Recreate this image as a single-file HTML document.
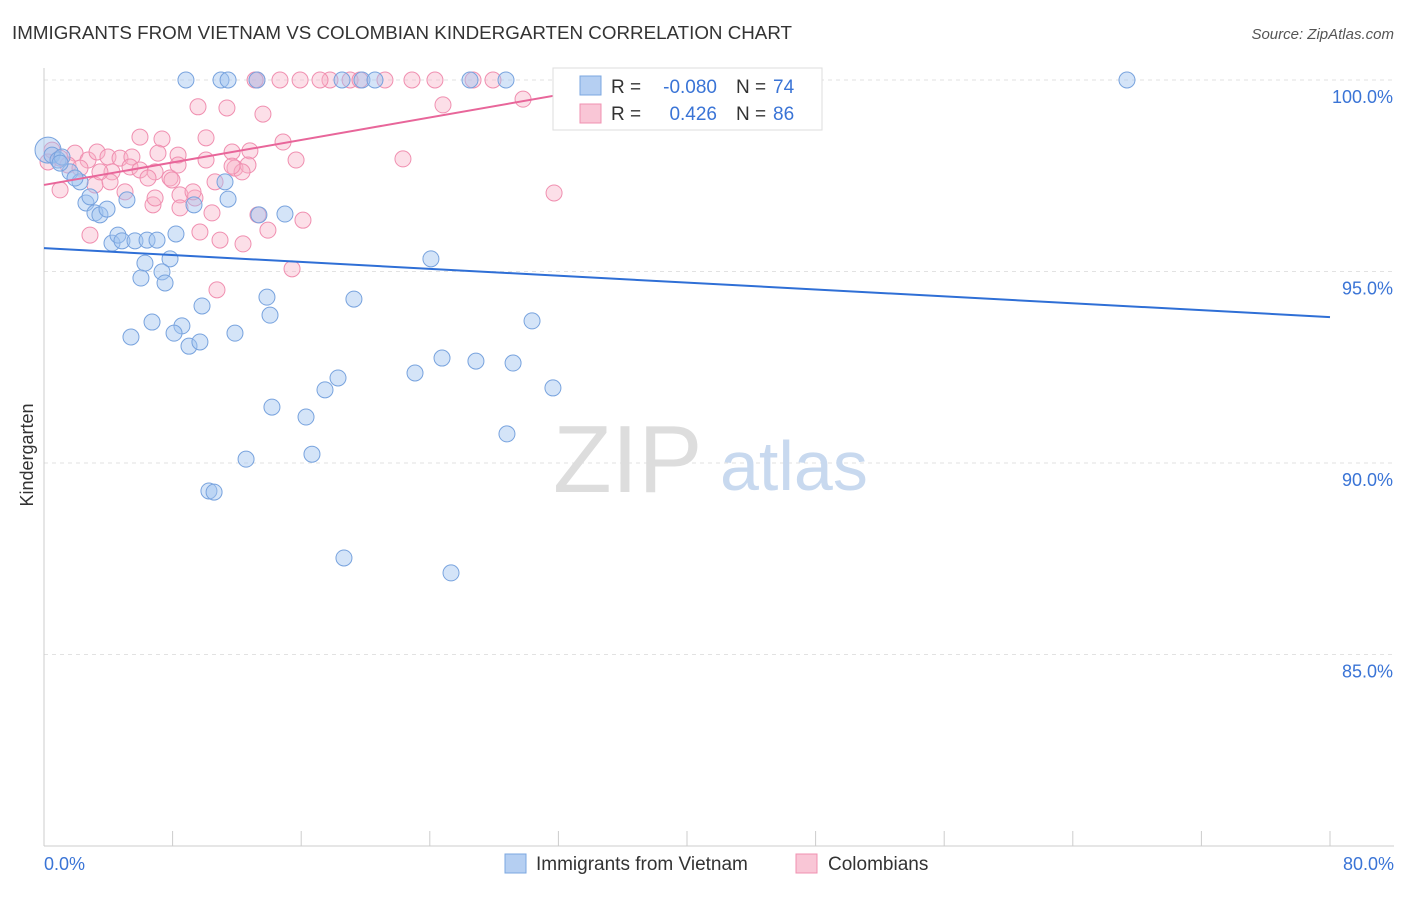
<!DOCTYPE html>
<html><head><meta charset="utf-8"><style>
body{margin:0;background:#fff;font-family:"Liberation Sans",sans-serif;}
svg text{font-family:"Liberation Sans",sans-serif;}
</style></head><body>
<svg width="1406" height="892" viewBox="0 0 1406 892">
<text x="12" y="39" font-size="18" fill="#333" textLength="780" lengthAdjust="spacingAndGlyphs">IMMIGRANTS FROM VIETNAM VS COLOMBIAN KINDERGARTEN CORRELATION CHART</text>
<text x="1394" y="39" font-size="15" fill="#555" text-anchor="end" font-style="italic">Source: ZipAtlas.com</text>
<g id="grid"></g>
<g id="axes"></g>
<text x="553" y="492" font-size="96" fill="#ddd" font-family="Liberation Serif">ZIP</text>
<text x="720" y="490" font-size="70" fill="#c8d9ef">atlas</text>
<text transform="translate(33,455) rotate(-90)" font-size="18" fill="#333" text-anchor="middle">Kindergarten</text>
<g id="pts"></g>
<g id="trend"></g>
<g>
<rect x="553" y="68" width="269" height="62" fill="#fff" stroke="#ddd"/>
<rect x="580" y="76" width="21" height="19" fill="#b5cff2" stroke="#7ba7e0"/>
<rect x="580" y="104" width="21" height="19" fill="#f9c6d6" stroke="#f090b0"/>
<text x="611" y="93" font-size="19" fill="#333">R =</text>
<text x="717" y="93" font-size="19" fill="#3a74d6" text-anchor="end">-0.080</text>
<text x="736" y="93" font-size="19" fill="#333">N =</text>
<text x="773" y="93" font-size="19" fill="#3a74d6">74</text>
<text x="611" y="120" font-size="19" fill="#333">R =</text>
<text x="717" y="120" font-size="19" fill="#3a74d6" text-anchor="end">0.426</text>
<text x="736" y="120" font-size="19" fill="#333">N =</text>
<text x="773" y="120" font-size="19" fill="#3a74d6">86</text>
</g>
<g>
<rect x="505" y="854" width="21" height="19" fill="#b5cff2" stroke="#7ba7e0"/>
<text x="536" y="870" font-size="19" fill="#333">Immigrants from Vietnam</text>
<rect x="796" y="854" width="21" height="19" fill="#f9c6d6" stroke="#f090b0"/>
<text x="828" y="870" font-size="19" fill="#333">Colombians</text>
</g>
</svg>
<script>
const yTicks=[100,95,90,85];
const xTickLabels=["0.0%","80.0%"];
const blueX=[8.83,11.01,11.45,13.25,18.54,19.78,20.59,26.5,28.74,43.11,67.37,0.25,0.5,0.87,1.12,1.62,2.24,2.61,3.17,3.48,3.92,2.86,5.16,4.23,4.6,4.85,5.66,6.41,7.03,8.21,6.28,7.84,6.03,7.34,7.53,9.33,11.26,11.45,13.37,14.99,24.07,9.83,13.87,14.06,19.28,6.72,8.58,8.09,5.41,9.02,9.7,11.88,30.36,23.08,24.76,26.87,29.18,31.66,18.29,17.48,14.18,16.3,28.8,12.57,16.67,10.26,10.58,18.66,25.32,1.0,1.93];
const blueY=[100,100,100,100,100,100,100,100,100,100,100,98.17,98.04,97.91,97.99,97.6,97.34,96.79,96.53,96.48,96.63,96.95,96.87,95.74,95.95,95.8,95.8,95.82,95.82,95.98,95.22,95.33,94.83,94.99,94.7,96.74,97.34,96.89,96.48,96.5,95.33,94.1,94.33,93.86,94.28,93.68,93.58,93.39,93.29,93.05,93.16,93.39,93.71,92.35,92.74,92.66,92.61,91.96,92.22,91.91,91.46,91.2,90.76,90.1,90.23,89.27,89.24,87.52,87.13,97.83,97.44];
const pinkX=[13.25,15.93,17.79,19.04,21.21,22.89,24.32,26.69,27.93,32.6,13.13,14.68,17.17,19.66,9.58,11.38,13.62,24.82,29.8,5.97,7.34,10.08,14.87,0.5,1.0,1.93,2.74,3.3,3.98,4.73,5.47,7.09,8.34,10.08,11.7,12.81,15.68,22.33,0.25,1.49,2.24,4.23,5.35,5.97,6.91,7.84,8.34,11.88,12.69,12.32,3.17,4.11,5.04,6.47,7.96,1.0,8.46,9.39,10.64,6.78,8.46,10.45,13.31,16.11,13.93,2.86,9.7,10.95,12.38,15.43,10.76,31.73,6.91,9.27,11.7,3.48];
const pinkY=[100,100,100,100,100,100,100,100,100,100,100,100,100,100,99.3,99.27,99.11,99.35,99.5,98.51,98.46,98.49,98.38,98.17,97.96,98.09,97.91,98.12,97.99,97.96,97.99,98.09,98.04,97.91,98.12,98.15,97.91,97.94,97.86,97.78,97.7,97.6,97.73,97.65,97.6,97.44,97.78,97.7,97.78,97.6,97.26,97.34,97.08,97.44,97.39,97.13,97.0,96.92,97.34,96.74,96.66,96.53,96.48,96.34,96.08,95.95,96.03,95.82,95.72,95.07,94.52,97.05,96.92,97.08,97.75,97.6];
const blueTrend=[[0,95.61],[80,93.81]];
const pinkTrend=[[0,97.26],[38,100.05]];
const NS="http://www.w3.org/2000/svg";
const X=v=>44+v*(1286/80);
const Y=v=>80+(100-v)*38.3;
function mk(t,a,p){const e=document.createElementNS(NS,t);for(const k in a)e.setAttribute(k,a[k]);p.appendChild(e);return e;}
const grid=document.getElementById('grid'),axes=document.getElementById('axes');
yTicks.forEach(t=>{
 const l=mk('line',{x1:44,x2:1394,y1:Y(t),y2:Y(t),stroke:'#e2e2e2','stroke-dasharray':'4,4'},grid);
 
 
 const tx=mk('text',{x:1393,y:Y(t)+23,'font-size':18,fill:'#3a74d6','text-anchor':'end'},grid);
 tx.textContent=t.toFixed(1)+'%';
 
 
});
mk('line',{x1:44,x2:44,y1:68,y2:846,stroke:'#ccc'},axes);
mk('line',{x1:44,x2:1394,y1:846,y2:846,stroke:'#ccc'},axes);
for(let i=0;i<=10;i++){const tk=mk('line',{x1:X(i*8),x2:X(i*8),y1:831,y2:846,stroke:'#ccc'},axes);
 
 }
[[0,'start',44],[80,'end',1394]].forEach((d,i)=>{const t=mk('text',{x:d[2],y:870,'font-size':18,fill:'#3a74d6','text-anchor':d[1]},axes);t.textContent=xTickLabels[i];
 
 });
const pts=document.getElementById('pts');
pinkX.forEach((x,i)=>{const c=mk('circle',{cx:X(x),cy:Y(pinkY[i]),r:8,fill:'rgba(248,175,198,0.4)',stroke:'#f08fb0','stroke-width':1},pts);
 
 });
blueX.forEach((x,i)=>{const c=mk('circle',{cx:X(x),cy:Y(blueY[i]),r:(i==11?13:8),fill:'rgba(160,196,240,0.45)',stroke:'#78a3de','stroke-width':1},pts);
 
 });
const tr=document.getElementById('trend');
const bl=mk('line',{x1:X(blueTrend[0][0]),y1:Y(blueTrend[0][1]),x2:X(blueTrend[1][0]),y2:Y(blueTrend[1][1]),stroke:'#2f6fd6','stroke-width':2},tr);


const pl=mk('line',{x1:X(pinkTrend[0][0]),y1:Y(pinkTrend[0][1]),x2:X(pinkTrend[1][0]),y2:Y(pinkTrend[1][1]),stroke:'#e8669a','stroke-width':2},tr);


</script>
</body></html>
